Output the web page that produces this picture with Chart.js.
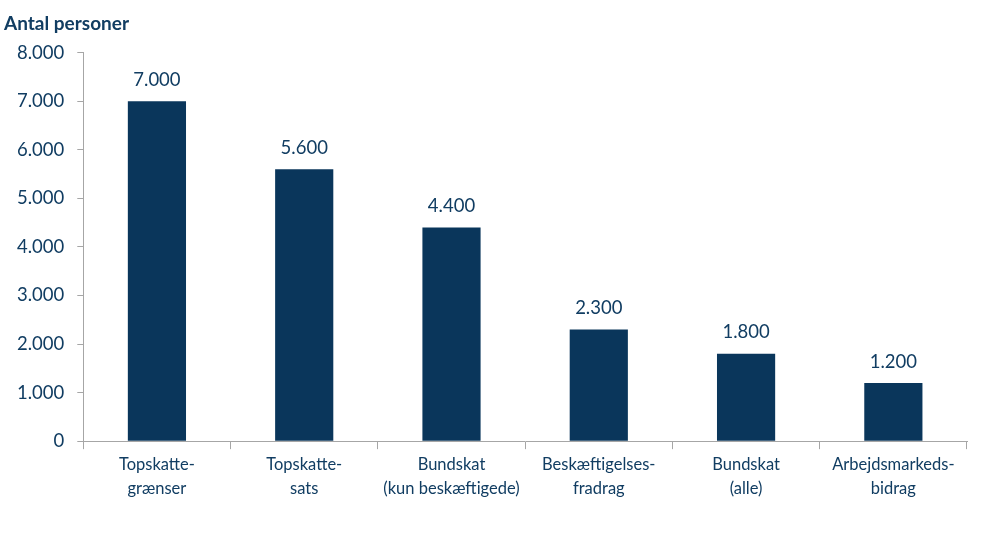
<!DOCTYPE html>
<html>
<head>
<meta charset="utf-8">
<script src="https://cdn.jsdelivr.net/npm/chart.js@4.4.1/dist/chart.umd.min.js"></script>
<style>
  html, body { margin: 0; padding: 0; background: #fff; }
  #wrap { width: 991px; height: 537px; }
</style>
</head>
<body>
<div id="wrap"><canvas id="myChart"></canvas></div>
<script>
const categories = [
    ["Topskatte-", "grænser"],
    ["Topskatte-", "sats"],
    ["Bundskat", "(kun beskæftigede)"],
    ["Beskæftigelses-", "fradrag"],
    ["Bundskat", "(alle)"],
    ["Arbejdsmarkeds-", "bidrag"],
];
const persons = [7000, 5600, 4400, 2300, 1800, 1200];
const yTicks = [0, 1000, 2000, 3000, 4000, 5000, 6000, 7000, 8000];

const barColor = "#0a365b";
const textColor = "#113d62";
const axisColor = "#a6a6a6";
const fontName = "Lato, 'Open Sans', sans-serif";

// danish thousand separator
function fmt(v) {
    return String(v).replace(/\B(?=(\d{3})+(?!\d))/g, ".");
}

const valueLabels = {
    id: "valueLabels",
    afterDatasetsDraw(chart) {
        const ctx = chart.ctx;
        const meta = chart.getDatasetMeta(0);
        ctx.save();
        ctx.fillStyle = textColor;
        ctx.font = "18.5px " + fontName;
        ctx.textAlign = "center";
        ctx.textBaseline = "bottom";
        meta.data.forEach((bar, i) => {
            ctx.fillText(fmt(persons[i]), bar.x, bar.y - 12);
        });
        ctx.restore();
    },
};

const ctx = document.getElementById("myChart");

new Chart(ctx, {
    type: "bar",
    data: {
        labels: categories,
        datasets: [
            {
                data: persons,
                backgroundColor: barColor,
                categoryPercentage: 1,
                barPercentage: 0.395,
            },
        ],
    },
    options: {
        responsive: true,
        maintainAspectRatio: false,
        animation: false,
        layout: { padding: { left: 4, right: 24, top: 4, bottom: 32 } },
        plugins: {
            legend: { display: false },
            tooltip: { enabled: false },
            title: {
                display: true,
                text: "Antal personer",
                align: "start",
                color: textColor,
                font: { family: fontName, size: 19, weight: "bold" },
                padding: { top: 8, bottom: 18 },
            },
        },
        scales: {
            x: {
                offset: true,
                grid: {
                    offset: true,
                    drawOnChartArea: false,
                    drawTicks: true,
                    tickLength: 8,
                    color: axisColor,
                },
                border: { color: axisColor, width: 1 },
                ticks: {
                    color: textColor,
                    font: { family: fontName, size: 16.5, lineHeight: 1.45 },
                    padding: 4,
                    maxRotation: 0,
                    autoSkip: false,
                },
            },
            y: {
                min: 0,
                max: 8000,
                afterBuildTicks: (axis) => {
                    axis.ticks = yTicks.map((v) => ({ value: v }));
                },
                grid: {
                    drawOnChartArea: false,
                    drawTicks: true,
                    tickLength: 6,
                    color: axisColor,
                },
                border: { color: axisColor, width: 1 },
                ticks: {
                    color: textColor,
                    font: { family: fontName, size: 18.5 },
                    padding: 13,
                    callback: (v) => fmt(v),
                },
            },
        },
    },
    plugins: [valueLabels],
});
</script>
</body>
</html>
